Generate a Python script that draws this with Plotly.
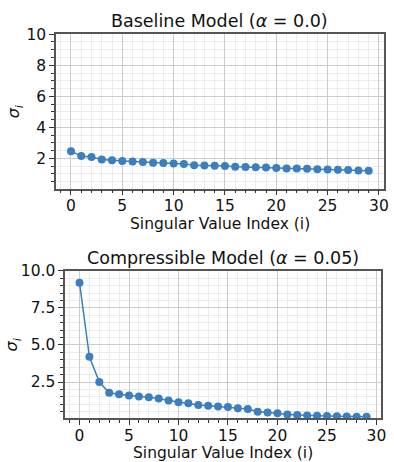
import plotly.graph_objects as go
from plotly.subplots import make_subplots

# Singular value spectra (first 30 values) for the two models
index = list(range(30))
baseline_sigma = [2.47, 2.15, 2.09, 1.93, 1.89, 1.83, 1.81, 1.77, 1.73, 1.70,
                  1.67, 1.65, 1.56, 1.55, 1.53, 1.51, 1.47, 1.45, 1.43, 1.41,
                  1.39, 1.36, 1.35, 1.33, 1.31, 1.29, 1.27, 1.25, 1.23, 1.21]
compressible_sigma = [9.20, 4.20, 2.50, 1.77, 1.68, 1.59, 1.53, 1.47, 1.39, 1.25,
                      1.14, 1.07, 0.95, 0.90, 0.85, 0.81, 0.73, 0.68, 0.49, 0.45,
                      0.40, 0.31, 0.27, 0.25, 0.23, 0.21, 0.20, 0.18, 0.16, 0.16]

titles = ["Baseline Model (<i>α</i> = 0.0)", "Compressible Model (<i>α</i> = 0.05)"]
x_label = "Singular Value Index (i)"
y_label = "<i>σ</i><sub><i>i</i></sub>"
x_ticks = [0, 5, 10, 15, 20, 25, 30]
baseline_yticks = [2, 4, 6, 8, 10]
compressible_yticks = [2.5, 5.0, 7.5, 10.0]
compressible_yticklabels = ["2.5", "5.0", "7.5", "10.0"]

W, H = 394, 462
FONT = "DejaVu Sans"
TEXT = "#111111"
LINE_COLOR = "#3b7fbf"

fig = make_subplots(rows=2, cols=1)

for row, ys in ((1, baseline_sigma), (2, compressible_sigma)):
    fig.add_trace(
        go.Scatter(
            x=index, y=ys, mode="lines+markers",
            line=dict(color=LINE_COLOR, width=1.5),
            marker=dict(color=LINE_COLOR, size=8, symbol="circle"),
            showlegend=False, hoverinfo="skip",
        ),
        row=row, col=1,
    )

# panel rectangles in pixels: (left, top, right, bottom)
panels = [(56.8, 25.7, 388.5, 183.3), (66.0, 267.0, 385.8, 417.5)]
title_y = [12.5, 253.5]      # title centres
xlabel_y = [219.0, 452.5]    # x-axis label centres
ylabel_x = [15.0, 13.0]      # y-axis label centres

axis_common = dict(
    showline=True, linecolor="#555555", linewidth=1.5, mirror=True,
    ticks="outside", ticklen=5, tickwidth=1, tickcolor="#333333",
    showgrid=True, gridcolor="#cccccc", gridwidth=1,
    zeroline=False,
    tickfont=dict(family=FONT, size=15.5, color=TEXT),
)

def px_x(v):
    return v / W

def px_y(v):
    return 1 - v / H

for i, (l, t, r, b) in enumerate(panels):
    n = "" if i == 0 else str(i + 1)
    xd = [px_x(l), px_x(r)]
    yd = [px_y(b), px_y(t)]
    fig.layout["xaxis" + n].update(
        domain=xd, range=[-1.45, 30.45], tickmode="array", tickvals=x_ticks,
        ticklabelstandoff=-3,
        minor=dict(dtick=1, tick0=0, ticks="outside", ticklen=3, tickcolor="#333333",
                   showgrid=True, gridcolor="#ececec", gridwidth=1),
        **axis_common,
    )
    if i == 0:
        yt = dict(tickmode="array", tickvals=baseline_yticks,
                  ticktext=[str(v) for v in baseline_yticks])
    else:
        yt = dict(tickmode="array", tickvals=compressible_yticks,
                  ticktext=compressible_yticklabels)
    fig.layout["yaxis" + n].update(
        domain=yd, range=[0.05, 10], **yt,
        minor=dict(dtick=0.5, tick0=0, ticks="outside", ticklen=3, tickcolor="#333333",
                   showgrid=True, gridcolor="#ececec", gridwidth=1),
        **axis_common,
    )
    # panel title
    fig.add_annotation(
        text=titles[i], xref="paper", yref="paper",
        x=(xd[0] + xd[1]) / 2, y=px_y(title_y[i]),
        xanchor="center", yanchor="middle", showarrow=False,
        font=dict(family=FONT, size=17.5, color=TEXT),
    )
    # x-axis label
    fig.add_annotation(
        text=x_label, xref="paper", yref="paper",
        x=(xd[0] + xd[1]) / 2, y=px_y(xlabel_y[i]),
        xanchor="center", yanchor="middle", showarrow=False,
        font=dict(family=FONT, size=15.5, color=TEXT),
    )
    # y-axis label
    fig.add_annotation(
        text=y_label, xref="paper", yref="paper",
        x=px_x(ylabel_x[i]), y=(yd[0] + yd[1]) / 2,
        xanchor="center", yanchor="middle", showarrow=False, textangle=-90,
        font=dict(family=FONT, size=16, color=TEXT),
    )

fig.update_layout(
    width=W, height=H, margin=dict(l=0, r=0, t=0, b=0),
    plot_bgcolor="white", paper_bgcolor="white",
    font=dict(family=FONT),
)

fig.write_html("out.html")
